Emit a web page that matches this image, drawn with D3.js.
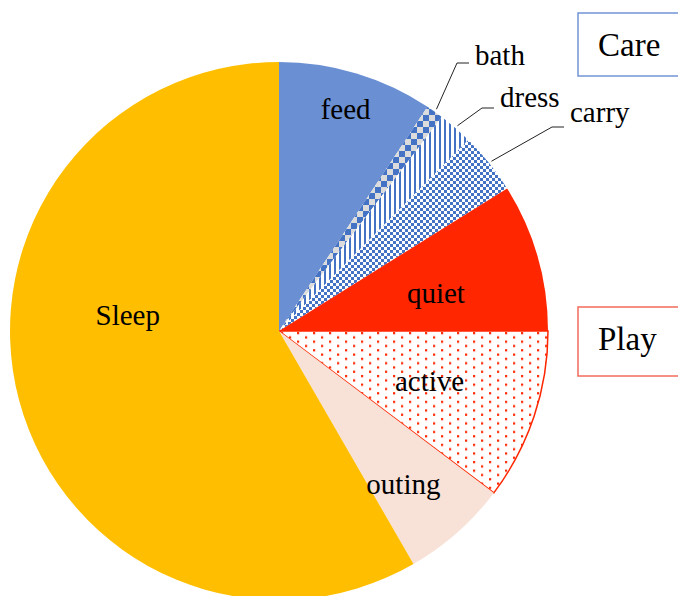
<!DOCTYPE html>
<html>
<head>
<meta charset="utf-8">
<script src="https://cdn.jsdelivr.net/npm/d3@7"></script>
<style>
  body { margin: 0; background: #fff; }
  svg { display: block; }
  text { font-family: "Liberation Serif", "Times New Roman", serif; fill: #000; }
</style>
</head>
<body>
<svg width="678" height="596"></svg>
<script>
// daily minutes per activity
var activities = ["feed", "bath", "dress", "carry", "quiet", "active", "outing", "Sleep"];
var minutes    = [134, 15, 30, 53, 128, 148, 92, 840];
var groups     = ["Care", "Play"];

var fills = ["#6a8fd2", "url(#pBath)", "url(#pDress)", "url(#pCarry)",
             "#ff2600", "url(#pActive)", "#f8e1d6", "#ffbf00"];

// inner label placement: fraction of radius, optional angle override (deg)
var labelPlace = [[0.86, null], null, null, null, [0.6, 76.5], [0.59, null], [0.735, 141], [0.565, 275.7]];
// callout elbows for the thin slices
var callouts = { bath: [457, 63], dress: [482, 108], carry: [552, 127] };

var svg = d3.select("svg");
var cx = 279, cy = 331, radius = 269;

var defs = svg.append("defs");
var blue = "#4472c4";

var p = defs.append("pattern").attr("id", "pBath").attr("patternUnits", "userSpaceOnUse")
  .attr("width", 12).attr("height", 12);
p.append("rect").attr("width", 12).attr("height", 12).attr("fill", "#dcdcdc");
p.append("rect").attr("width", 6).attr("height", 6).attr("fill", blue);
p.append("rect").attr("x", 6).attr("y", 6).attr("width", 6).attr("height", 6).attr("fill", blue);

p = defs.append("pattern").attr("id", "pDress").attr("patternUnits", "userSpaceOnUse")
  .attr("width", 5).attr("height", 5);
p.append("rect").attr("width", 5).attr("height", 5).attr("fill", "#fff");
p.append("rect").attr("width", 2).attr("height", 5).attr("fill", blue);

p = defs.append("pattern").attr("id", "pCarry").attr("patternUnits", "userSpaceOnUse")
  .attr("width", 6).attr("height", 6);
p.append("rect").attr("width", 6).attr("height", 6).attr("fill", "#fff");
p.append("rect").attr("width", 3).attr("height", 3).attr("fill", blue);
p.append("rect").attr("x", 3).attr("y", 3).attr("width", 3).attr("height", 3).attr("fill", blue);

p = defs.append("pattern").attr("id", "pActive").attr("patternUnits", "userSpaceOnUse")
  .attr("width", 16).attr("height", 8.6);
p.append("rect").attr("width", 16).attr("height", 8.6).attr("fill", "#fff");
p.append("rect").attr("x", 2).attr("y", 1).attr("width", 2.2).attr("height", 2.2).attr("fill", "#ff2600");
p.append("rect").attr("x", 10).attr("y", 5.3).attr("width", 2.2).attr("height", 2.2).attr("fill", "#ff2600");

var pie = d3.pie().sort(null).value(function(d) { return d; });
var arcs = pie(minutes);
var arc = d3.arc().innerRadius(0).outerRadius(radius);

var g = svg.append("g").attr("transform", "translate(" + cx + "," + cy + ")");

g.selectAll("path.slice")
  .data(arcs)
  .enter().append("path")
  .attr("class", "slice")
  .attr("d", arc)
  .attr("fill", function(d, i) { return fills[i]; })
  .attr("stroke", function(d, i) { return activities[i] == "active" ? "#ff2600" : "none"; })
  .attr("stroke-width", 1.5);

// inner labels
arcs.forEach(function(d, i) {
  var lp = labelPlace[i];
  if (!lp) return;
  var a = lp[1] != null ? lp[1] * Math.PI / 180 : (d.startAngle + d.endAngle) / 2;
  var r = lp[0] * radius;
  g.append("text")
    .attr("x", r * Math.sin(a))
    .attr("y", -r * Math.cos(a))
    .attr("dy", "0.33em")
    .attr("text-anchor", "middle")
    .style("font-size", "29px")
    .text(activities[i]);
});

// callouts with leader lines
arcs.forEach(function(d, i) {
  var c = callouts[activities[i]];
  if (!c) return;
  var a = (d.startAngle + d.endAngle) / 2;
  var x0 = cx + (radius + 3) * Math.sin(a), y0 = cy - (radius + 3) * Math.cos(a);
  svg.append("polyline")
    .attr("points", [[x0, y0], c, [c[0] + 12, c[1]]].map(function(q) { return q.join(","); }).join(" "))
    .attr("fill", "none")
    .attr("stroke", "#222")
    .attr("stroke-width", 1);
  svg.append("text")
    .attr("x", c[0] + 18)
    .attr("y", c[1] + (activities[i] == "carry" ? -5 : activities[i] == "bath" ? 2 : -1))
    .style("font-size", "29px")
    .text(activities[i]);
});

// group boxes
var boxes = [{ y: 13, h: 63, stroke: "#7394d6" }, { y: 307, h: 69, stroke: "#f26b5b" }];
groups.forEach(function(name, i) {
  var b = boxes[i];
  svg.append("rect")
    .attr("x", 578).attr("y", b.y)
    .attr("width", 110).attr("height", b.h)
    .attr("fill", "#fff")
    .attr("stroke", b.stroke)
    .attr("stroke-width", 1.5);
  svg.append("text")
    .attr("x", 598)
    .attr("y", b.y + b.h / 2 + (i == 0 ? 11 : 8))
    .style("font-size", "33px")
    .text(name);
});
</script>
</body>
</html>
